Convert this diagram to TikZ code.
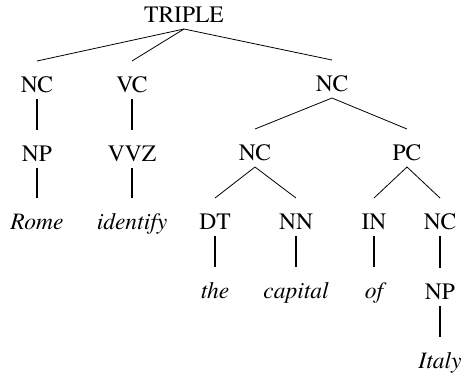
\documentclass[tikz,border=0pt]{standalone}
\usepackage{fontspec}
\setmainfont{TeX Gyre Termes}
\usepackage{tikz}
\usetikzlibrary{positioning}
\tikzset{
  cat/.style={inner sep=0pt, outer sep=7pt, text height=24pt, text depth=0pt,
    anchor=base, font=\rmfamily\fontsize{23.5}{28}\selectfont},
  word/.style={cat, font=\rmfamily\fontsize{23.5}{28}\selectfont\itshape},
  vln/.style={line width=1.5pt},
  dln/.style={line width=0.8pt}
}

\begin{document}
\begin{tikzpicture}[x=1pt, y=-1pt]
  \useasboundingbox (0,0) rectangle (462,376);
  % categories, row by row
  \node[cat] (triple) at (184,22) {TRIPLE};
  \node[cat] (nca) at (37,92) {NC};
  \node[cat] (vc) at (132,92) {VC};
  \node[cat] (ncb) at (332,91) {NC};
  \node[cat] (npa) at (37,161) {NP};
  \node[cat] (vvz) at (132,161) {VVZ};
  \node[cat] (ncc) at (255,160) {NC};
  \node[cat] (pc) at (407,160) {PC};
  \node[word] (rome) at (37,229) {Rome};
  \node[word] (identify) at (132,229) {identify};
  \node[cat] (dt) at (215,229) {DT};
  \node[cat] (nn) at (296,229) {NN};
  \node[cat] (prep) at (374,229) {IN};
  \node[cat] (ncd) at (440,229) {NC};
  \node[word] (the) at (215,298) {the};
  \node[word] (capital) at (296,298) {capital};
  \node[word] (of) at (374,298) {of};
  \node[cat] (npb) at (440,299) {NP};
  \node[word] (italy) at (440,368) {Italy};
  % branches
  \draw[dln] (nca.north) -- (triple.south) -- (ncb.north);
  \draw[dln] (triple.south) -- (vc.north);
  \draw[dln] (ncc.north) -- (ncb.south) -- (pc.north);
  \draw[dln] (dt.north) -- (ncc.south) -- (nn.north);
  \draw[dln] (prep.north) -- (pc.south) -- (ncd.north);
  \draw[vln] (nca) -- (npa);
  \draw[vln] (npa) -- (rome);
  \draw[vln] (vc) -- (vvz);
  \draw[vln] (vvz) -- (identify);
  \draw[vln] (dt) -- (the);
  \draw[vln] (nn) -- (capital);
  \draw[vln] (prep) -- (of);
  \draw[vln] (ncd) -- (npb);
  \draw[vln] (npb) -- (italy);
\end{tikzpicture}
\end{document}
